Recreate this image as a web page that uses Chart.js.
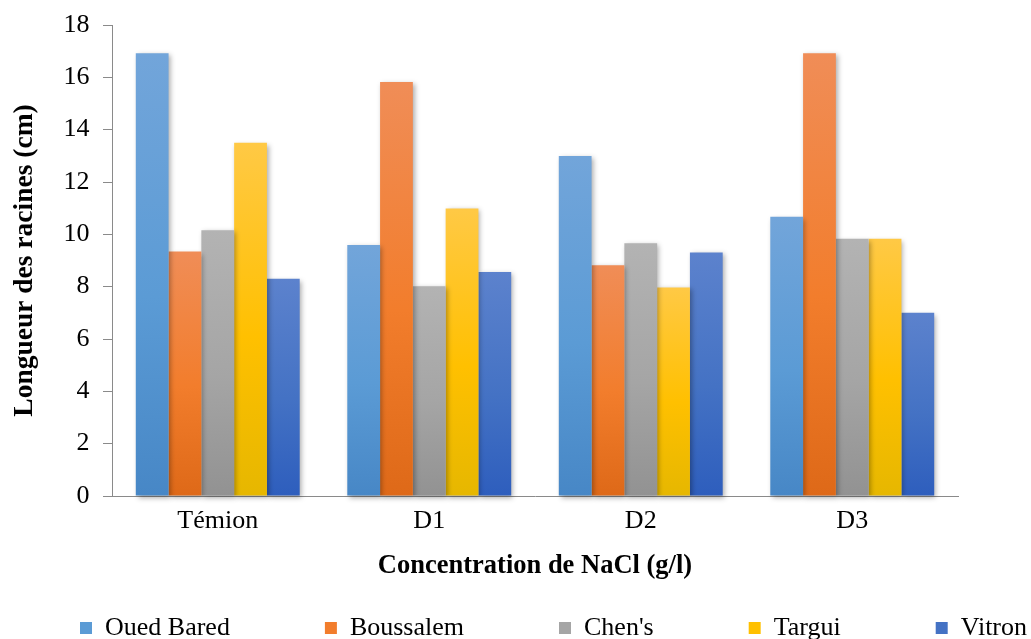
<!DOCTYPE html>
<html lang="fr">
<head>
<meta charset="utf-8">
<title>Longueur des racines selon la concentration de NaCl</title>
<script src="https://cdn.jsdelivr.net/npm/chart.js@4.4.1/dist/chart.umd.min.js"></script>
<style>
  html, body { margin: 0; padding: 0; background: #ffffff; }
  #wrap { position: relative; width: 1031px; height: 639px; }
</style>
</head>
<body>
<div id="wrap"><canvas id="chart"></canvas></div>
<script>
// Concentrations de NaCl (axe des abscisses)
const categories = ['Témion', 'D1', 'D2', 'D3'];

// Variétés
const seriesNames = ['Oued Bared', 'Boussalem', "Chen's", 'Targui', 'Vitron'];

// Longueur des racines (cm) par variété
const ouedBared = [16.92, 9.59, 12.99, 10.67];
const boussalem = [9.34, 15.82, 8.82, 16.92];
const chens     = [10.16, 8.02, 9.66, 9.83];
const targui    = [13.50, 10.99, 7.97, 9.83];
const vitron    = [8.30, 8.56, 9.31, 7.00];

// Graduations de l'axe vertical
const yTicks = [0, 2, 4, 6, 8, 10, 12, 14, 16, 18];

// Dégradés des barres : haut, milieu, bas
const palette = [
  ['#72a5da', '#5b9bd5', '#4787c6'],
  ['#f08d57', '#f27d2c', '#de6918'],
  ['#b3b3b3', '#a5a5a5', '#929292'],
  ['#ffc945', '#ffc000', '#e6b700'],
  ['#5c82cd', '#4472c4', '#2e5ebd']
];

const serif = "'Liberation Serif', 'Times New Roman', Times, serif";
const axisGrey = '#8a8a8a';

// Dégradé vertical propre à chaque barre
function barFill(stops) {
  return (ctx) => {
    const chart = ctx.chart;
    if (ctx.type !== 'data' || !chart.chartArea) return stops[1];
    const y = chart.scales.y;
    const top = y.getPixelForValue(ctx.raw);
    const base = y.getPixelForValue(0);
    if (!isFinite(top) || !isFinite(base) || top === base) return stops[1];
    const g = chart.ctx.createLinearGradient(0, top, 0, base);
    g.addColorStop(0, stops[0]);
    g.addColorStop(0.55, stops[1]);
    g.addColorStop(1, stops[2]);
    return g;
  };
}

// Ombre portée douce sous les barres
const barShadow = {
  id: 'barShadow',
  beforeDatasetsDraw(chart) {
    const c = chart.ctx;
    c.save();
    c.shadowColor = 'rgba(0, 0, 0, 0.32)';
    c.shadowBlur = 5;
    c.shadowOffsetX = 2;
    c.shadowOffsetY = 2;
  },
  afterDatasetsDraw(chart) {
    chart.ctx.restore();
  }
};

// Légende étalée sur toute la largeur, en bas de la figure
const LEGEND_X = 80;
const LEGEND_TEXT_Y = 628;
const legendPlacement = {
  id: 'legendPlacement',
  afterLayout(chart) {
    const lg = chart.legend;
    if (!lg) return;
    const pad = lg.options.labels.padding;
    const font = lg.options.labels.font.size;
    lg.left = LEGEND_X - pad;
    lg.right = chart.width + 600;
    lg.top = LEGEND_TEXT_Y - font / 2 - pad;
  }
};

const values = [ouedBared, boussalem, chens, targui, vitron];

const datasets = seriesNames.map((name, i) => ({
  label: name,
  data: values[i],
  backgroundColor: barFill(palette[i]),
  borderWidth: 0,
  categoryPercentage: 0.775,
  barPercentage: 1.0,
  clip: false
}));

new Chart(document.getElementById('chart'), {
  type: 'bar',
  data: { labels: categories, datasets },
  plugins: [barShadow, legendPlacement],
  options: {
    responsive: true,
    maintainAspectRatio: false,
    animation: false,
    font: { family: serif, size: 26 },
    color: '#000000',
    layout: { padding: { top: 25, right: 73, bottom: 0, left: 0 } },
    plugins: {
      tooltip: { enabled: false },
      legend: {
        position: 'bottom',
        align: 'start',
        maxHeight: 53,
        labels: {
          font: { family: serif, size: 26 },
          color: '#000000',
          boxWidth: 12,
          boxHeight: 12,
          padding: 95,
          generateLabels(chart) {
            return chart.data.datasets.map((ds, i) => ({
              text: ds.label,
              fillStyle: palette[i][1],
              strokeStyle: palette[i][1],
              lineWidth: 0,
              hidden: false,
              datasetIndex: i
            }));
          }
        }
      }
    },
    scales: {
      x: {
        grid: { display: false, drawTicks: false },
        border: { display: true, color: axisGrey, width: 1 },
        ticks: {
          font: { family: serif, size: 26 },
          color: '#000000',
          padding: 10,
          maxRotation: 0
        },
        title: {
          display: true,
          text: 'Concentration de NaCl (g/l)',
          font: { family: serif, size: 26.5, weight: 'bold' },
          color: '#000000',
          padding: { top: 3, bottom: 4 }
        }
      },
      y: {
        min: yTicks[0],
        max: yTicks[yTicks.length - 1],
        afterBuildTicks(scale) {
          scale.ticks = yTicks.map(v => ({ value: v }));
        },
        grid: {
          display: true,
          drawOnChartArea: false,
          drawTicks: true,
          tickLength: 9,
          color: axisGrey
        },
        border: { display: true, color: axisGrey, width: 1 },
        ticks: {
          font: { family: serif, size: 26, lineHeight: 0.88 },
          color: '#000000',
          padding: 13.5
        },
        title: {
          display: true,
          text: 'Longueur des racines (cm)',
          font: { family: serif, size: 27.5, weight: 'bold' },
          color: '#000000',
          padding: { top: 8.5, bottom: 8.5 }
        }
      }
    }
  }
});
</script>
</body>
</html>
